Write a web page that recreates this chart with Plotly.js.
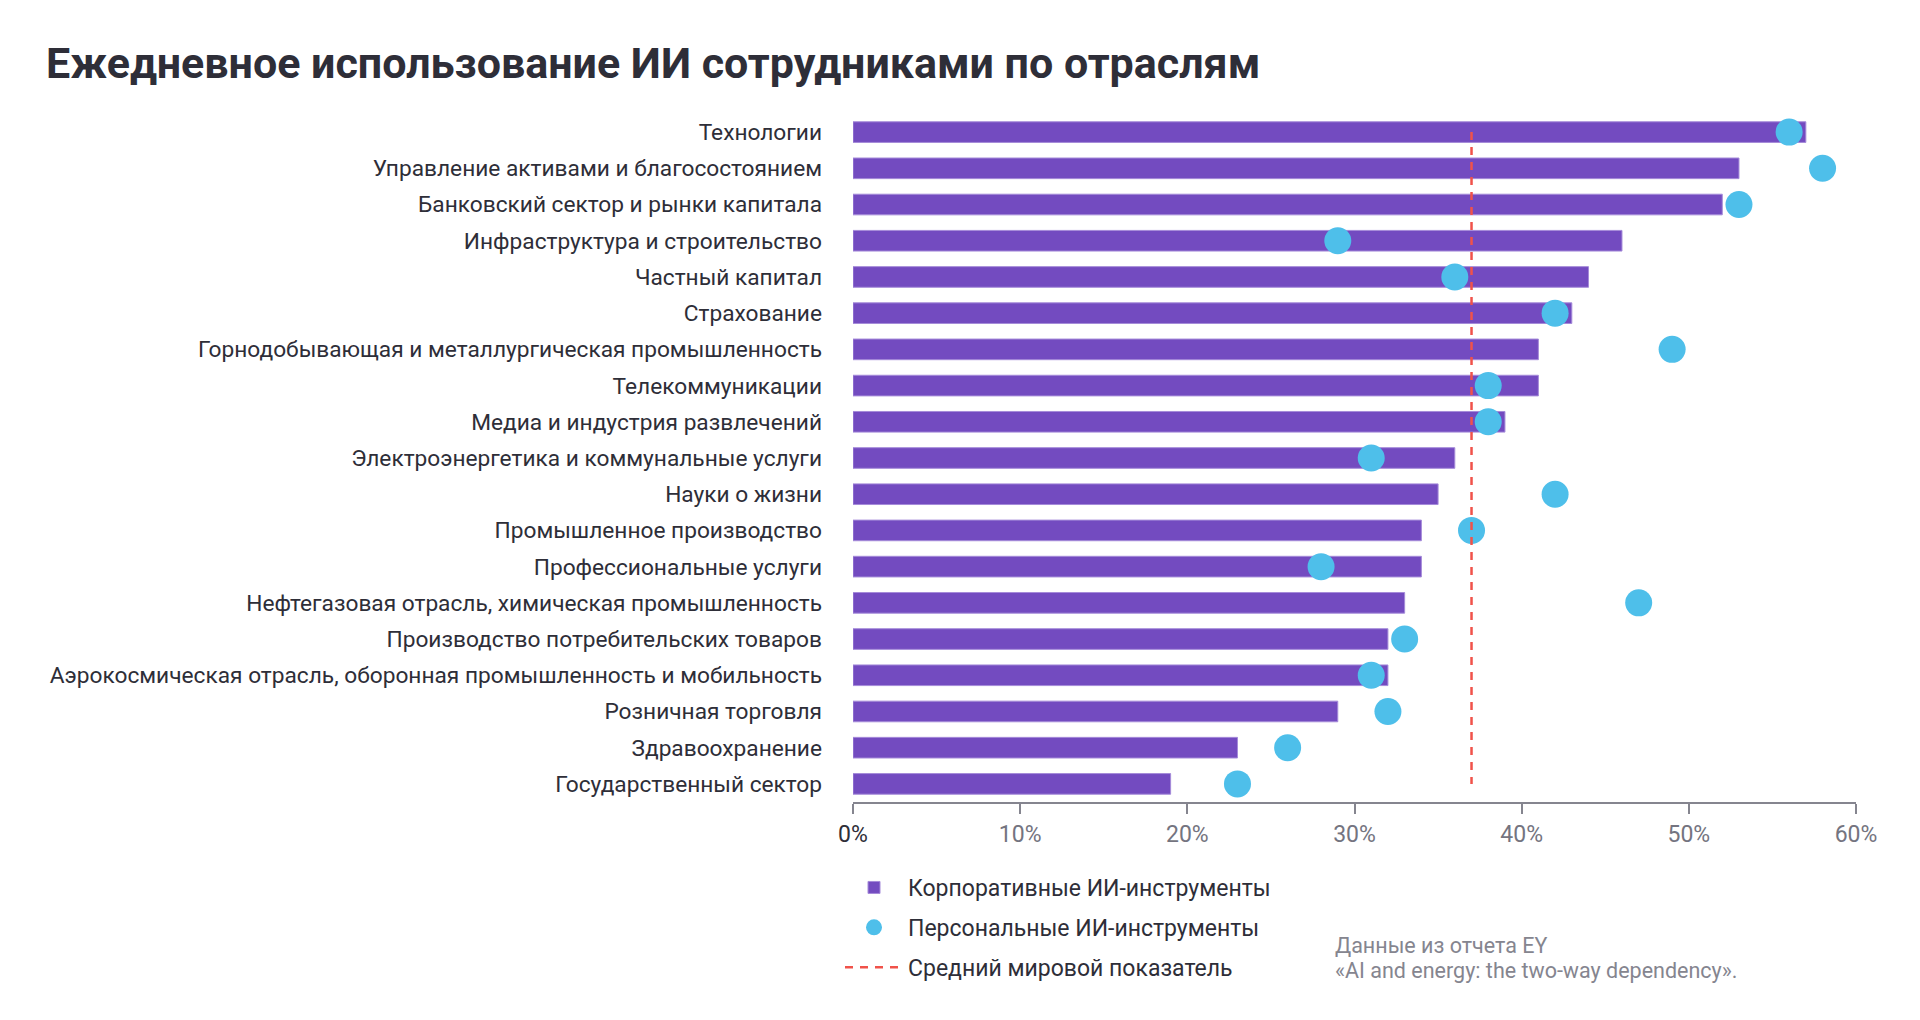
<!DOCTYPE html>
<html>
<head>
<meta charset="utf-8">
<script src="https://cdn.plot.ly/plotly-3.0.1.min.js"></script>
<style>
  html, body { margin: 0; padding: 0; background: #ffffff; }
  #chart { width: 1920px; height: 1020px; }
</style>
</head>
<body>
<div id="chart"></div>
<script>
const categories = [
  "Технологии",
  "Управление активами и благосостоянием",
  "Банковский сектор и рынки капитала",
  "Инфраструктура и строительство",
  "Частный капитал",
  "Страхование",
  "Горнодобывающая и металлургическая промышленность",
  "Телекоммуникации",
  "Медиа и индустрия развлечений",
  "Электроэнергетика и коммунальные услуги",
  "Науки о жизни",
  "Промышленное производство",
  "Профессиональные услуги",
  "Нефтегазовая отрасль, химическая промышленность",
  "Производство потребительских товаров",
  "Аэрокосмическая отрасль, оборонная промышленность и мобильность",
  "Розничная торговля",
  "Здравоохранение",
  "Государственный сектор"
];
const corporateTools = [57, 53, 52, 46, 44, 43, 41, 41, 39, 36, 35, 34, 34, 33, 32, 32, 29, 23, 19];
const personalTools  = [56, 58, 53, 29, 36, 42, 49, 38, 38, 31, 42, 37, 28, 47, 33, 31, 32, 26, 23];
const globalAverage = 37;
const tickValues = [0, 10, 20, 30, 40, 50, 60];
const tickLabels = ["0%", "10%", "20%", "30%", "40%", "50%", "60%"];
const seriesNames = ["Корпоративные ИИ-инструменты", "Персональные ИИ-инструменты", "Средний мировой показатель"];
const titleText = "Ежедневное использование ИИ сотрудниками по отраслям";
const sourceLines = ["Данные из отчета EY", "«AI and energy: the two-way dependency»."];

const FONT = "Roboto, 'Open Sans', sans-serif";
const TITLE_FONT = "Roboto, 'DejaVu Sans Condensed', sans-serif";
const DARK = "#2e2e38";
const GRAY = "#747480";

const traces = [
  {
    type: "bar",
    orientation: "h",
    name: seriesNames[0],
    y: categories,
    x: corporateTools,
    width: 0.57,
    marker: { color: "#734bc0", line: { color: "#a58bd9", width: 1 } },
    legendgroup: "g1",
    hoverinfo: "x+y"
  },
  {
    type: "scatter",
    mode: "markers",
    name: seriesNames[1],
    y: categories,
    x: personalTools,
    marker: { color: "#4ebfea", size: 27, symbol: "circle" },
    legendgroup: "g2",
    hoverinfo: "x+y"
  },
  {
    type: "scatter",
    mode: "lines",
    name: seriesNames[2],
    y: [categories[0], categories[categories.length - 1]],
    x: [globalAverage, globalAverage],
    line: { color: "#f0524a", width: 2.5, dash: "8px,7px" },
    legendgroup: "g3",
    hoverinfo: "x"
  }
];

const tickText = tickLabels.map((t, i) => i === 0 ? '<span style="color:' + DARK + '">' + t + '</span>' : t);

const sourceAnnotations = sourceLines.map((line, i) => ({
  text: line,
  xref: "paper",
  yref: "paper",
  x: (1333 - 853) / 1003,
  y: (802 - (945 + i * 25)) / 688,
  xanchor: "left",
  yanchor: "middle",
  align: "left",
  showarrow: false,
  font: { family: FONT, size: 21.5, color: "#85858f" }
}));

const layout = {
  width: 1920,
  height: 1020,
  paper_bgcolor: "#ffffff",
  plot_bgcolor: "#ffffff",
  margin: { l: 853, r: 64, t: 114, b: 218, pad: 0, autoexpand: false },
  font: { family: FONT, color: DARK, size: 23 },
  title: {
    text: "<b>" + titleText + "</b>",
    font: { family: TITLE_FONT, size: 43, color: DARK, weight: 700 },
    x: 46 / 1920,
    xanchor: "left",
    xref: "container",
    y: 1 - 63 / 1020,
    yanchor: "middle",
    yref: "container"
  },
  xaxis: {
    range: [0, 60],
    tickvals: tickValues,
    ticktext: tickText,
    tickfont: { family: FONT, size: 23, color: GRAY },
    showgrid: false,
    zeroline: false,
    showline: true,
    linecolor: "#85858f",
    linewidth: 2,
    ticks: "outside",
    ticklen: 10,
    tickwidth: 2,
    tickcolor: "#85858f",
    automargin: false,
    fixedrange: true
  },
  yaxis: {
    type: "category",
    categoryorder: "array",
    categoryarray: categories,
    range: [categories.length - 0.5, -0.5],
    autorange: false,
    showgrid: false,
    zeroline: false,
    showline: false,
    ticks: "",
    ticklabelstandoff: 30,
    tickfont: { family: FONT, size: 22.7, color: DARK },
    automargin: false,
    fixedrange: true
  },
  showlegend: true,
  legend: {
    orientation: "v",
    x: (840 - 853) / 1003,
    xanchor: "left",
    y: (802 - 866) / 688,
    yanchor: "top",
    traceorder: "grouped",
    tracegroupgap: 7,
    itemwidth: 58,
    font: { family: FONT, size: 23, color: DARK },
    bgcolor: "rgba(0,0,0,0)"
  },
  annotations: sourceAnnotations,
  hovermode: "closest"
};

Plotly.newPlot("chart", traces, layout, { displayModeBar: false, responsive: false });
</script>
</body>
</html>
